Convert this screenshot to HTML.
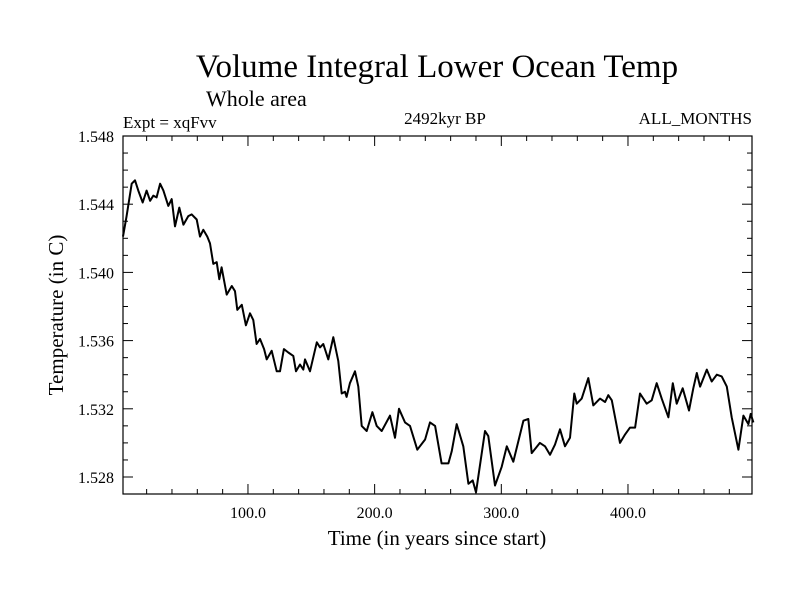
<!DOCTYPE html>
<html><head><meta charset="utf-8"><style>
body{margin:0;background:#fff;}
svg{display:block;font-family:"Liberation Serif",serif;}
</style></head><body>
<svg id="chart" width="800" height="600" viewBox="0 0 800 600">
<rect width="800" height="600" fill="#fff"/>
<text x="437" y="77" font-size="33" text-anchor="middle">Volume Integral Lower Ocean Temp</text>
<text x="206" y="106" font-size="22">Whole area</text>
<text x="123" y="128" font-size="17">Expt = xqFvv</text>
<text x="445" y="124" font-size="17" text-anchor="middle">2492kyr BP</text>
<text x="752" y="124" font-size="17" text-anchor="end">ALL_MONTHS</text>
<text x="437" y="545" font-size="21" text-anchor="middle">Time (in years since start)</text>
<text transform="translate(63,315) rotate(-90)" font-size="21" text-anchor="middle">Temperature (in C)</text>
<g id="ticks"></g>
<g id="labels"></g>
<path id="series" fill="none" stroke="#000" stroke-width="2" stroke-linejoin="round"/>
<rect x="123" y="136" width="629" height="358" fill="none" stroke="#000" stroke-width="1.2"/>
</svg>
<script>
const years = [0,4.2,8.2,10.8,13.4,16.9,20.0,22.7,25.3,27.9,30.6,33.2,37.1,39.8,42.4,45.8,49.0,52.9,55.6,59.5,62.1,64.7,67.9,70.0,72.6,75.3,77.4,79.2,83.2,87.2,89.8,91.6,95.1,98.4,101.6,104.2,106.8,109.5,112.7,114.8,118.7,122.7,125.3,128.4,131.8,135.8,137.9,141.1,143.7,145.0,149.0,154.3,156.9,159.5,163.4,167.4,171.3,174.0,176.6,177.9,180.5,184.5,187.1,189.8,193.7,198.2,201.6,205.6,212.1,216.1,219.2,224.0,227.9,233.7,239.8,243.7,247.7,252.9,258.2,260.8,264.8,270.0,274.0,277.4,280.0,287.1,289.7,295.0,300.3,304.3,309.5,317.4,321.3,324.0,330.5,334.5,338.4,342.4,346.3,350.3,354.2,357.6,359.5,363.5,368.7,372.6,377.9,381.9,384.5,387.2,393.7,397.7,401.6,405.6,409.5,414.8,418.7,422.7,426.6,431.9,435.4,438.5,443.2,448.2,451.6,454.3,456.9,462.2,466.1,470.1,474.0,478.0,481.9,487.2,491.1,495.1,496.9,499];
const temps = [1.5421,1.5433,1.5452,1.5454,1.5448,1.5441,1.5448,1.5442,1.5445,1.5444,1.5452,1.5448,1.5439,1.5443,1.5427,1.5438,1.5428,1.5433,1.5434,1.5431,1.5421,1.5425,1.5421,1.5417,1.5405,1.5406,1.5396,1.5403,1.5387,1.5392,1.5389,1.5378,1.5381,1.5369,1.5376,1.5372,1.5358,1.5361,1.5355,1.5349,1.5354,1.5342,1.5342,1.5355,1.5353,1.5351,1.5342,1.5346,1.5343,1.5349,1.5342,1.5359,1.5356,1.5358,1.5349,1.5362,1.5348,1.5329,1.5330,1.5327,1.5335,1.5342,1.5333,1.5310,1.5307,1.5318,1.5310,1.5307,1.5316,1.5303,1.5320,1.5312,1.5310,1.5296,1.5302,1.5312,1.5310,1.5288,1.5288,1.5295,1.5311,1.5298,1.5276,1.5278,1.5271,1.5307,1.5304,1.5275,1.5286,1.5298,1.5289,1.5313,1.5314,1.5294,1.5300,1.5298,1.5293,1.5299,1.5308,1.5298,1.5303,1.5329,1.5323,1.5326,1.5338,1.5322,1.5326,1.5324,1.5328,1.5325,1.5300,1.5305,1.5309,1.5309,1.5329,1.5323,1.5325,1.5335,1.5326,1.5315,1.5335,1.5323,1.5332,1.5319,1.5332,1.5341,1.5333,1.5343,1.5336,1.5340,1.5339,1.5333,1.5315,1.5296,1.5316,1.5311,1.5317,1.5312];
const xTickLabels = ["100.0","200.0","300.0","400.0"];
const xTickValues = [100,200,300,400];
const yTickLabels = ["1.528","1.532","1.536","1.540","1.544","1.548"];
const yTickValues = [1.528,1.532,1.536,1.540,1.544,1.548];

const L=123,R=752,T=136,B=494;
function xs(v){return 121.3+v*1.2667;}
function ys(v){return 477-(v-1.528)/0.004*68.2;}
const NS="http://www.w3.org/2000/svg";
const tg=document.getElementById('ticks'), lg=document.getElementById('labels');
function line(x1,y1,x2,y2){const l=document.createElementNS(NS,'line');l.setAttribute('x1',x1);l.setAttribute('y1',y1);l.setAttribute('x2',x2);l.setAttribute('y2',y2);l.setAttribute('stroke','#000');l.setAttribute('stroke-width','1');


tg.appendChild(l);}
for(let v=20;v<500;v+=20){const x=xs(v);const len=(v%100===0)?10:5;line(x,B,x,B-len);line(x,T,x,T+len);}
for(let i=0;i<=20;i++){const v=1.528+i*0.001;const y=ys(v);if(y<T-0.5||y>B)continue;const len=(i%4===0)?10:5;line(L,y,L+len,y);line(R,y,R-len,y);}
xTickLabels.forEach((s,i)=>{const t=document.createElementNS(NS,'text');t.setAttribute('x',xs(xTickValues[i]));t.setAttribute('y',518);t.setAttribute('font-size','16');t.setAttribute('text-anchor','middle');t.textContent=s;


lg.appendChild(t);});
yTickLabels.forEach((s,i)=>{const t=document.createElementNS(NS,'text');t.setAttribute('x',114);t.setAttribute('y',ys(yTickValues[i])+6);t.setAttribute('font-size','16');t.setAttribute('text-anchor','end');t.textContent=s;


lg.appendChild(t);});
let d='';years.forEach((yr,i)=>{d+=(i?'L':'M')+Math.max(L,xs(yr)).toFixed(1)+','+ys(temps[i]).toFixed(1);});
document.getElementById('series').setAttribute('d',d);
</script>
</body></html>
